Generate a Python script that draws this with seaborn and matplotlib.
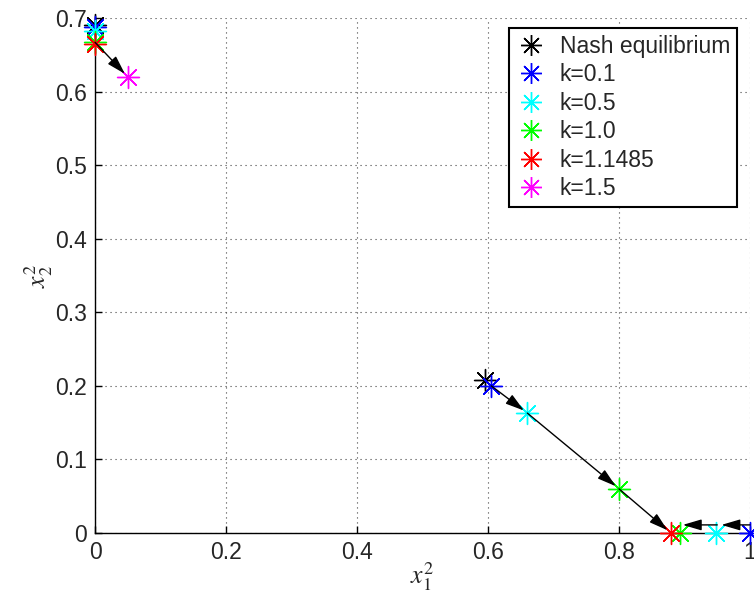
"""
Trajectories of the equilibrium point for different k values.
"""

import matplotlib.pyplot as plt
from matplotlib.lines import Line2D
import pandas as pd
import seaborn as sns

# series
labels = ["Nash equilibrium", "k=0.1", "k=0.5", "k=1.0", "k=1.1485", "k=1.5"]
colors = ["black", "blue", "cyan", "lime", "red", "magenta"]

nash_x = [0.0, 0.595]
nash_y = [0.690, 0.208]
k01_x = [0.0, 0.605, 1.0]
k01_y = [0.688, 0.200, 0.0]
k05_x = [0.0, 0.660, 0.948]
k05_y = [0.682, 0.163, 0.0]
k10_x = [0.0, 0.800, 0.893]
k10_y = [0.668, 0.060, 0.0]
k11485_x = [0.0, 0.879]
k11485_y = [0.665, 0.0]
k15_x = [0.050]
k15_y = [0.620]

# arrows (start, end)
arrow_x0 = [0.0, 0.605, 0.660, 0.800, 1.000, 0.950]
arrow_y0 = [0.667, 0.200, 0.163, 0.060, 0.011, 0.011]
arrow_x1 = [0.050, 0.660, 0.800, 0.879, 0.950, 0.891]
arrow_y1 = [0.620, 0.163, 0.060, 0.0, 0.011, 0.011]

xticks = [0, 0.2, 0.4, 0.6, 0.8, 1.0]
xticklabels = ["0", "0.2", "0.4", "0.6", "0.8", "1"]
yticks = [0, 0.1, 0.2, 0.3, 0.4, 0.5, 0.6, 0.7]
yticklabels = ["0", "0.1", "0.2", "0.3", "0.4", "0.5", "0.6", "0.7"]

series = [
    (nash_x, nash_y), (k01_x, k01_y), (k05_x, k05_y),
    (k10_x, k10_y), (k11485_x, k11485_y), (k15_x, k15_y),
]
frames = []
for lab, (xs, ys) in zip(labels, series):
    frames.append(pd.DataFrame({"x": xs, "y": ys, "label": lab}))
df = pd.concat(frames, ignore_index=True)

sns.set_theme(style="white")
plt.rcParams["font.family"] = ["Liberation Sans", "DejaVu Sans"]
plt.rcParams["mathtext.fontset"] = "stix"

FS = 16.5
ASTER = (8, 2, 0)

fig = plt.figure(figsize=(7.54, 5.94), dpi=100)
ax = fig.add_axes([0.126, 0.1027, 0.8687, 0.8670])

for lab, col in zip(labels, colors):
    sub = df[df["label"] == lab]
    sns.scatterplot(data=sub, x="x", y="y", ax=ax, color=col,
                    marker=ASTER, s=250, linewidth=1.0, legend=False,
                    clip_on=False, zorder=3)

for x0, y0, x1, y1 in zip(arrow_x0, arrow_y0, arrow_x1, arrow_y1):
    ax.annotate("", xy=(x1, y1), xytext=(x0, y0),
                arrowprops=dict(arrowstyle="-|>,head_length=0.95,head_width=0.28",
                                color="black", lw=1.0, shrinkA=0, shrinkB=3),
                zorder=4, annotation_clip=False)

ax.set_xlim(0, 1)
ax.set_ylim(0, 0.7)
ax.set_xticks(xticks)
ax.set_xticklabels(xticklabels, fontsize=FS)
ax.set_yticks(yticks)
ax.set_yticklabels(yticklabels, fontsize=FS)
ax.tick_params(direction="in", length=5, width=1, color="black",
               bottom=True, left=True, pad=6)
ax.grid(True, linestyle=(0, (1, 3.5)), color="#444444", linewidth=0.8)

for side in ["top", "right"]:
    ax.spines[side].set_visible(False)
for side in ["left", "bottom"]:
    ax.spines[side].set_color("black")
    ax.spines[side].set_linewidth(1.0)

ax.set_xlabel(r"$x_1^2$", fontsize=FS + 2, labelpad=-3)
ax.set_ylabel(r"$x_2^2$", fontsize=FS + 2, labelpad=0)

handles = [Line2D([], [], linestyle="none", marker=ASTER, markersize=15,
                  markeredgewidth=1.0, color=c) for c in colors]
leg = ax.legend(handles, labels, loc="upper right",
                bbox_to_anchor=(737 / 754, 1 - 28 / 594),
                bbox_transform=fig.transFigure, borderaxespad=0,
                fontsize=FS, frameon=True, fancybox=False,
                handlelength=1.3, handletextpad=0.6, labelspacing=0.24,
                borderpad=0.3)
leg.get_frame().set_edgecolor("black")
leg.get_frame().set_linewidth(1.5)
leg.get_frame().set_alpha(1)

fig.savefig("out.png", dpi=100)
